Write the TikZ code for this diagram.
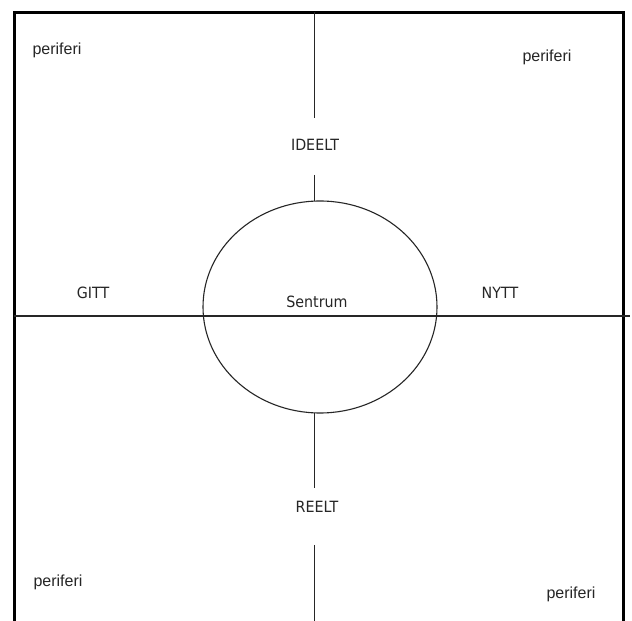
\documentclass[tikz,border=0pt]{standalone}
\usepackage{fontspec}
\setmainfont{Liberation Sans}
\newfontfamily\labfont[FakeStretch=0.92]{DejaVu Sans}
\usetikzlibrary{shapes.geometric}
\begin{document}
\begin{tikzpicture}[x=1pt,y=1pt,
  frameline/.style={line width=3pt,black},
  axisline/.style={line width=1.1pt,black!85},
  lab/.style={font=\labfont\fontsize{15.5}{18}\selectfont,text=black!85,inner sep=0pt},
  peri/.style={font=\fontsize{16}{19}\selectfont,text=black!85,inner sep=0pt}]
\useasboundingbox (0,0) rectangle (632,621);
\fill[white] (0,0) rectangle (632,621);
% frame
\coordinate (fbl) at (14,-2);
\coordinate (ftl) at (14,608.5);
\coordinate (ftr) at (623,608.5);
\coordinate (fbr) at (623,-2);
\draw[frameline] (fbl) -- (ftl) -- (ftr) -- (fbr);
% ellipse
\node[ellipse,draw,line width=1.1pt,black!85,minimum width=234pt,minimum height=212pt,inner sep=0pt] (ell) at (320,314) {};
\node[lab] (sentrum) at (317,319) {Sentrum};
% horizontal axis
\coordinate (hl) at (14,305);
\coordinate (hr) at (630,305);
\draw[axisline] (hl) -- (hr);
% vertical axis top
\coordinate (vt0) at (314.5,608.5);
\coordinate (vt1) at (314.5,503);
\node[lab] (ideelt) at (315,476) {IDEELT};
\coordinate (vt2) at (314.5,446);
\coordinate (vt3) at (314.5,420);
\draw[axisline] (vt0) -- (vt1);
\draw[axisline] (vt2) -- (vt3);
% vertical axis bottom
\coordinate (vb0) at (314.5,208);
\coordinate (vb1) at (314.5,133);
\node[lab] (reelt) at (317,114) {REELT};
\coordinate (vb2) at (314.5,76);
\coordinate (vb3) at (314.5,-1);
\draw[axisline] (vb0) -- (vb1);
\draw[axisline] (vb2) -- (vb3);
% side labels
\node[lab] (gitt) at (93,328) {GITT};
\node[lab] (nytt) at (500,328) {NYTT};
% periferi
\node[peri] (ptl) at (57,571) {periferi};
\node[peri] (ptr) at (547,564) {periferi};
\node[peri] (pbl) at (58,39) {periferi};
\node[peri] (pbr) at (571,27) {periferi};
\end{tikzpicture}
\end{document}
